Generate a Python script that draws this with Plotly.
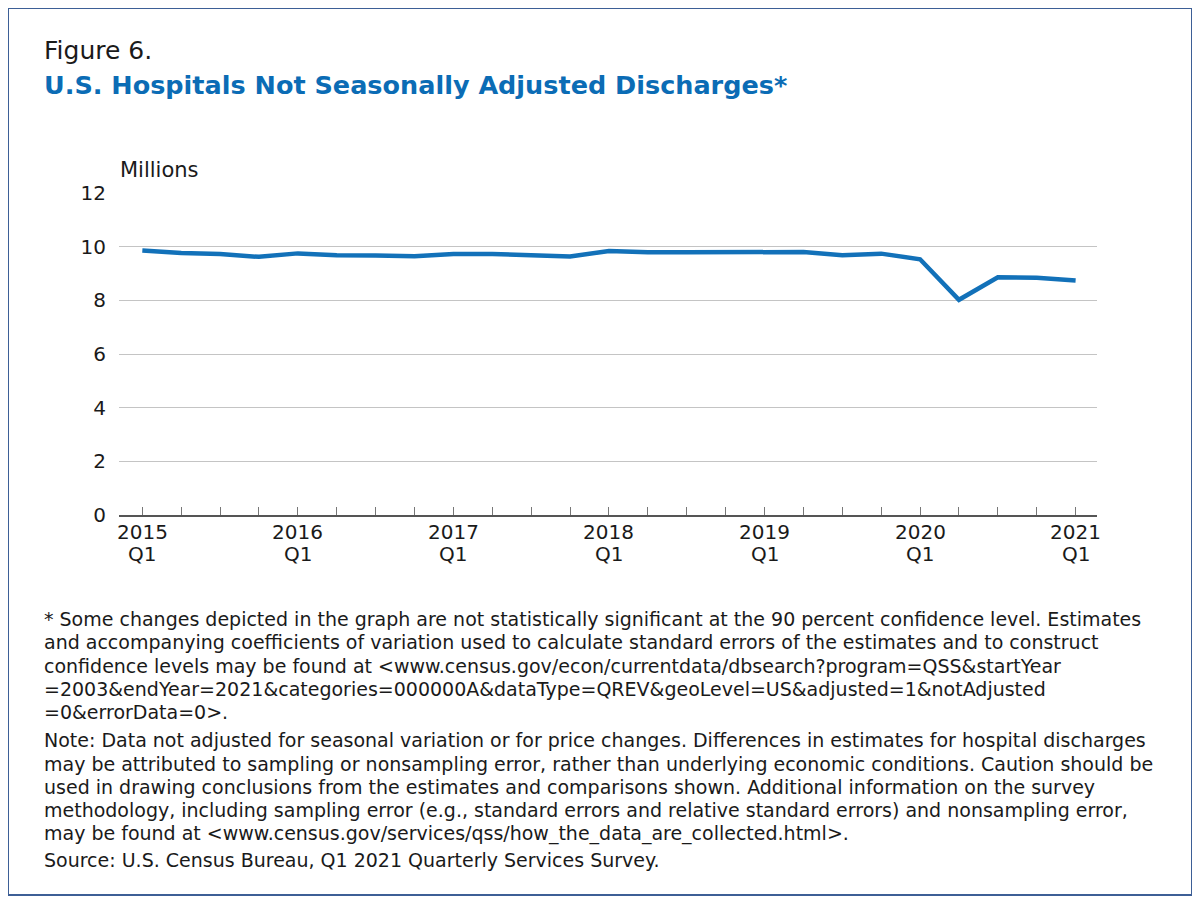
import plotly.graph_objects as go

quarters = ["2015 Q1","2015 Q2","2015 Q3","2015 Q4",
            "2016 Q1","2016 Q2","2016 Q3","2016 Q4",
            "2017 Q1","2017 Q2","2017 Q3","2017 Q4",
            "2018 Q1","2018 Q2","2018 Q3","2018 Q4",
            "2019 Q1","2019 Q2","2019 Q3","2019 Q4",
            "2020 Q1","2020 Q2","2020 Q3","2020 Q4",
            "2021 Q1"]
discharges = [9.86, 9.76, 9.73, 9.62,
              9.75, 9.68, 9.67, 9.64,
              9.73, 9.73, 9.68, 9.63,
              9.84, 9.79, 9.79, 9.78,
              9.81, 9.80, 9.68, 9.74,
              9.53, 8.02, 8.86, 8.84,
              8.74]
tick_idx = [0, 4, 8, 12, 16, 20, 24]
tick_years = ["2015", "2016", "2017", "2018", "2019", "2020", "2021"]
tick_quarter = "Q1"
y_ticks = [0, 2, 4, 6, 8, 10, 12]

note1_lines = [
    "* Some changes depicted in the graph are not statistically significant at the 90 percent confidence level. Estimates",
    "and accompanying coefficients of variation used to calculate standard errors of the estimates and to construct",
    "confidence levels may be found at <www.census.gov/econ/currentdata/dbsearch?program=QSS&startYear",
    "=2003&endYear=2021&categories=000000A&dataType=QREV&geoLevel=US&adjusted=1&notAdjusted",
    "=0&errorData=0>.",
]
note2_lines = [
    "Note: Data not adjusted for seasonal variation or for price changes. Differences in estimates for hospital discharges",
    "may be attributed to sampling or nonsampling error, rather than underlying economic conditions. Caution should be",
    "used in drawing conclusions from the estimates and comparisons shown. Additional information on the survey",
    "methodology, including sampling error (e.g., standard errors and relative standard errors) and nonsampling error,",
    "may be found at <www.census.gov/services/qss/how_the_data_are_collected.html>.",
]
source_line = "Source: U.S. Census Bureau, Q1 2021 Quarterly Services Survey."

OFF = 8  # page body margin
W, H = 1200 - OFF, 905 - OFF
L, R, T, B = 119 - OFF, 1097 - OFF, 193 - OFF, 515 - OFF

def px(x):  # page x -> paper
    return (x - OFF - L) / (R - L)

def py(y):  # page y -> paper
    return (B - (y - OFF)) / (B - T)

def esc(s):
    return s.replace("&", "&amp;").replace("<", "&lt;").replace(">", "&gt;")

FONT = "DejaVu Sans"
BLUE = "#0b6cb5"
TXT = "#1a1a1a"

fig = go.Figure()
fig.add_trace(go.Scatter(
    x=list(range(len(quarters))), y=discharges, mode="lines",
    line=dict(color="#1271b9", width=4.5), hoverinfo="y", showlegend=False,
))

fig.update_layout(
    width=W, height=H,
    margin=dict(l=L, r=W - R, t=T, b=H - B),
    paper_bgcolor="white", plot_bgcolor="white",
    font=dict(family=FONT, color=TXT),
    xaxis=dict(
        range=[-0.6, 24.55], tickmode="array", tickvals=tick_idx, showticklabels=False,
        ticks="inside", ticklen=8, tickcolor="#777", tickwidth=1,
        minor=dict(dtick=1, tick0=0, ticks="inside", ticklen=8, tickcolor="#777", tickwidth=1),
        showline=True, linecolor="#555", linewidth=1.5, showgrid=False, zeroline=False,
    ),
    yaxis=dict(
        range=[0, 12], tickvals=y_ticks, showgrid=True, gridcolor="#c4c4c4", gridwidth=1,
        zeroline=False, showline=False, ticks="", ticklabelstandoff=12,
        tickfont=dict(size=20, family=FONT, color=TXT),
    ),
)

ann = []
for i, yr in zip(tick_idx, tick_years):
    ann.append(dict(text=yr, x=i, xref="x", y=py(532), yref="paper", xanchor="center",
                    yanchor="middle", font=dict(size=20, color=TXT, family=FONT)))
    ann.append(dict(text=tick_quarter, x=i, xref="x", y=py(554), yref="paper", xanchor="center",
                    yanchor="middle", font=dict(size=20, color=TXT, family=FONT)))

ann.append(dict(text="Figure 6.", x=px(42), y=py(50), xanchor="left", yanchor="middle",
                font=dict(size=25, color=TXT, family=FONT)))
ann.append(dict(text="<b>U.S. Hospitals Not Seasonally Adjusted Discharges*</b>", x=px(42), y=py(85),
                xanchor="left", yanchor="middle", font=dict(size=25.5, color=BLUE, family=FONT)))
ann.append(dict(text="Millions", x=px(118), y=py(170), xanchor="left", yanchor="middle",
                font=dict(size=21, color=TXT, family=FONT)))

centers = [619, 642.3, 665.6, 689, 712.3, 740, 763.5, 787, 810.3, 833.6, 860]
lines = note1_lines + note2_lines + [source_line]
for txt, yc in zip(lines, centers):
    ann.append(dict(text=esc(txt), x=px(42), y=py(yc), xanchor="left", yanchor="middle", align="left",
                    font=dict(size=19, color=TXT, family=FONT)))

for a in ann:
    a.setdefault("xref", "paper")
    a.setdefault("yref", "paper")
    a["showarrow"] = False
fig.update_layout(annotations=ann)

fig.add_shape(type="rect", xref="paper", yref="paper",
              x0=px(8), x1=px(1192), y0=py(8), y1=py(895),
              line=dict(color="#3d5f96", width=2), fillcolor="rgba(0,0,0,0)", layer="below")

fig.write_html("out.html")
